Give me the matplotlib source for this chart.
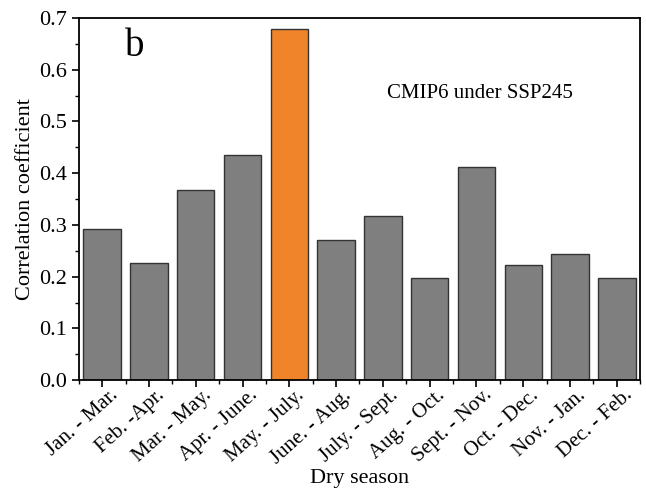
import numpy as np
import matplotlib
matplotlib.use('Agg')
import matplotlib.pyplot as plt
from matplotlib.ticker import MultipleLocator
from matplotlib.transforms import ScaledTranslation

# データ
seasons = ['Jan. - Mar.', 'Feb. -Apr.', 'Mar. - May.', 'Apr. - June.', 'May. - July.',
           'June. - Aug.', 'July. - Sept.', 'Aug. - Oct.', 'Sept. - Nov.', 'Oct. - Dec.',
           'Nov. - Jan.', 'Dec. - Feb.']
corr = [0.292, 0.226, 0.368, 0.435, 0.679, 0.271, 0.317, 0.197, 0.412, 0.222, 0.244, 0.197]
highlight = 4

plt.rcParams['font.family'] = ['Liberation Serif', 'DejaVu Serif']

colors = ['#f0842a' if i == highlight else '#7f7f7f' for i in range(len(corr))]

fig = plt.figure(figsize=(6.46, 4.97), dpi=100)
ax = fig.add_axes([0.122, 0.235, 0.869, 0.729])
x = np.arange(len(corr))
ax.bar(x, corr, width=0.8, color=colors, edgecolor='#333333', linewidth=1.0)

ax.set_xlim(-0.5, len(corr) - 0.5)
ax.set_ylim(0, 0.7)
ax.set_xticks(x)
ax.set_xticklabels(seasons, rotation=42, ha='right', va='center', rotation_mode='anchor')
ax.xaxis.set_minor_locator(MultipleLocator(1, offset=0.5))
ax.yaxis.set_major_locator(MultipleLocator(0.1))
ax.yaxis.set_minor_locator(MultipleLocator(0.05))
ax.yaxis.set_major_formatter(plt.FormatStrFormatter('%.1f'))
ax.tick_params(axis='both', which='major', direction='out', length=5, width=1.2, labelsize=16)
ax.tick_params(axis='x', which='major', labelsize=15, pad=4)
ax.tick_params(axis='both', which='minor', direction='out', length=3, width=1.0)
for s in ax.spines.values():
    s.set_linewidth(1.3)

ax.set_xlabel('Dry season', fontsize=16)
ax.xaxis.set_label_coords(0.5, -0.245)
ax.set_ylabel('Correlation coefficient', fontsize=16, labelpad=3)
ax.text(0.1, 0.92, 'b', transform=ax.transAxes, fontsize=28, ha='center', va='center')
ax.text(0.715, 0.79, 'CMIP6 under SSP245', transform=ax.transAxes, fontsize=15,
        ha='center', va='center')

# ラベルを少し右へずらす
fig.canvas.draw()
shift = ScaledTranslation(13 / 100, 0, fig.dpi_scale_trans)
for lbl in ax.get_xticklabels():
    lbl.set_transform(lbl.get_transform() + shift)

plt.savefig('out.png', dpi=100)
